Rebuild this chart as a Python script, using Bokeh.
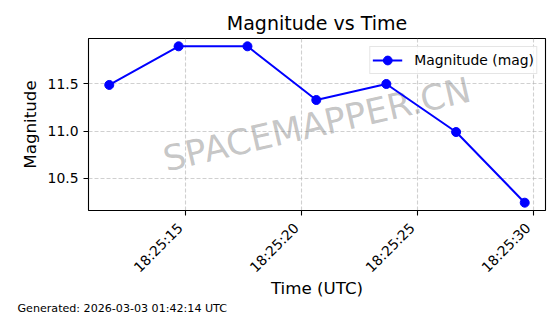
import pandas as pd
from bokeh.plotting import figure
from bokeh.models import (ColumnDataSource, Range1d, FixedTicker, DatetimeTickFormatter,
                          NumeralTickFormatter, Label, Legend, LegendItem, DatetimeAxis,
                          Title, CustomLabelingPolicy)
from bokeh.embed import file_html
from bokeh.resources import INLINE
import math

# ---- data ----
times = ["2026-03-02 18:25:11.72", "2026-03-02 18:25:14.71", "2026-03-02 18:25:17.68",
         "2026-03-02 18:25:20.65", "2026-03-02 18:25:23.67", "2026-03-02 18:25:26.68",
         "2026-03-02 18:25:29.64"]
magnitudes = [11.49, 11.90, 11.90, 11.33, 11.50, 10.99, 10.24]
x_tick_times = ["2026-03-02 18:25:15", "2026-03-02 18:25:20", "2026-03-02 18:25:25",
                "2026-03-02 18:25:30"]
y_ticks = [10.5, 11.0, 11.5]
title_text = "Magnitude vs Time"
x_label = "Time (UTC)"
y_label = "Magnitude"
series_label = "Magnitude (mag)"
watermark = "SPACEMAPPER.CN"
footer = "Generated: 2026-03-03 01:42:14 UTC"

t = pd.to_datetime(times)
src = ColumnDataSource(dict(t=t, m=magnitudes))

def ms(ts):
    return pd.Timestamp(ts).value / 1e6

tms = [ms(s) for s in times]
xmin, xmax = min(tms), max(tms)
xpad = (xmax - xmin) * 0.05
ymin, ymax = min(magnitudes), max(magnitudes)
ypad = (ymax - ymin) * 0.05
x0, x1 = xmin - xpad, xmax + xpad

FONT = "DejaVu Sans"
W, H = 560, 314
FL, FR, FT, FB = 88, 545, 38, 212

p = figure(width=W, height=H, x_axis_type="datetime", output_backend="svg",
           toolbar_location=None, min_border_left=FL, min_border_right=W - FR,
           min_border_top=FT, min_border_bottom=H - FB,
           x_range=Range1d(x0, x1), y_range=Range1d(ymin - ypad, ymax + ypad))

p.title.text = title_text
p.title.align = "center"
p.title.text_font = FONT
p.title.text_font_size = "19px"
p.title.text_font_style = "normal"
p.title.text_color = "black"

p.outline_line_color = "black"
p.outline_line_width = 1.1
p.background_fill_color = "white"
p.border_fill_color = "white"

tick_ms = [ms(s) for s in x_tick_times]
fmt = DatetimeTickFormatter(seconds="%H:%M:%S", minsec="%H:%M:%S",
                            milliseconds="%H:%M:%S", minutes="%H:%M:%S")

# axis A: tick marks only (labels suppressed by policy)
p.xaxis.ticker = FixedTicker(ticks=tick_ms)
p.xaxis.formatter = fmt
p.xaxis.major_label_text_font_size = "1px"
p.xaxis.major_label_standoff = 0
p.xaxis.major_label_policy = CustomLabelingPolicy(
    code="for (const i of indices) { indices.unset(i) }\nreturn indices")

p.yaxis.ticker = FixedTicker(ticks=y_ticks)
p.yaxis.formatter = NumeralTickFormatter(format="0.0")
p.yaxis.axis_label = y_label

# axis B: rotated tick labels, nudged left so the label ends at the tick (matplotlib style)
px_per_ms = (FR - FL) / (x1 - x0)
shift_px = 5
d = shift_px / px_per_ms
p.extra_x_ranges = {"lab": Range1d(x0 + d, x1 + d)}
axb = DatetimeAxis(x_range_name="lab", ticker=FixedTicker(ticks=tick_ms), formatter=fmt,
                   major_label_orientation=math.pi / 4, axis_label=x_label)
p.add_layout(axb, "below")
axb.major_tick_out = 0
axb.major_tick_in = 0
axb.major_tick_line_color = None
axb.major_label_standoff = 6
axb.axis_label_standoff = -6

for ax in (p.xaxis[0], p.yaxis[0], axb):
    ax.axis_line_color = None
    ax.minor_tick_line_color = None
    ax.major_label_text_font = FONT
    ax.major_label_text_color = "black"
    ax.axis_label_text_font = FONT
    ax.axis_label_text_font_size = "16.7px"
    ax.axis_label_text_font_style = "normal"
    ax.axis_label_text_color = "black"

for ax in (p.xaxis[0], p.yaxis[0]):
    ax.major_tick_out = 5
    ax.major_tick_in = 0
    ax.major_tick_line_color = "black"
    ax.major_tick_line_width = 1.1
p.yaxis.major_label_standoff = 5
p.yaxis.major_label_text_font_size = "13.9px"
axb.major_label_text_font_size = "13.9px"

p.grid.grid_line_color = "#b0b0b0"
p.grid.grid_line_alpha = 0.6
p.grid.grid_line_dash = "4 2"
p.grid.grid_line_width = 1.1

cx = (xmin + xmax) / 2
cy = (ymin + ymax) / 2
wm = Label(x=cx, y=cy, text=watermark, text_align="center", text_baseline="middle",
           angle=13, angle_units="deg", text_font=FONT, text_font_size="35px",
           text_color="gray", text_alpha=0.45, level="underlay")
p.add_layout(wm)

r_line = p.line("t", "m", source=src, line_color="blue", line_width=2)
r_pts = p.scatter("t", "m", source=src, size=9, fill_color="blue", line_color="blue")

legend = Legend(items=[LegendItem(label=series_label, renderers=[r_line, r_pts])],
                location="top_right", margin=8, padding=2, spacing=0,
                glyph_width=30, glyph_height=22, label_standoff=12,
                label_text_font=FONT, label_text_font_size="13.9px",
                label_text_color="black",
                border_line_color="#cccccc", border_line_width=1,
                background_fill_alpha=0.8)
p.add_layout(legend)

foot = Title(text=footer, align="left", offset=17 - FL, standoff=-1,
             text_font=FONT, text_font_size="11.1px", text_font_style="normal",
             text_color="black")
p.add_layout(foot, "below")

open("out.html", "w").write(file_html(p, INLINE))
